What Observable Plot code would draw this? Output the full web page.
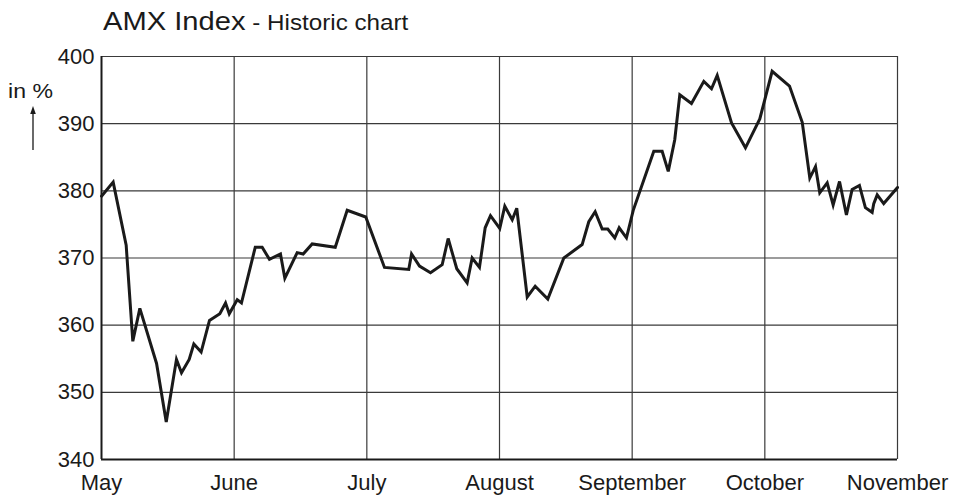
<!DOCTYPE html>
<html>
<head>
<meta charset="utf-8">
<script src="https://cdn.jsdelivr.net/npm/d3@7"></script>
<script src="https://cdn.jsdelivr.net/npm/@observablehq/plot@0.6"></script>
<style>
  html, body { margin: 0; padding: 0; background: #fff; }
  #wrap { position: relative; width: 958px; height: 500px; font-family: "Liberation Sans", Arial, Helvetica, sans-serif; color: #1a1a1a; }
  #title { position: absolute; left: 103px; top: 8px; white-space: nowrap; line-height: 1; transform-origin: left bottom; transform: scaleX(1.1); }
  #title .main { font-size: 26.5px; }
  #title .sub { font-size: 22px; }
  #unit { position: absolute; left: 8px; top: 80px; font-size: 21px; line-height: 1; transform-origin: left top; transform: scaleX(1.1); }
  #arrow { position: absolute; left: 0; top: 0; }
  #chart { position: absolute; left: 0; top: 0; }
</style>
</head>
<body>
<div id="wrap">
  <div id="chart"></div>
  <div id="title"><span class="main">AMX Index</span><span class="sub"> - Historic chart</span></div>
  <div id="unit">in %</div>
  <svg id="arrow" width="60" height="160"><line x1="33" y1="150" x2="33" y2="112" stroke="#1a1a1a" stroke-width="1.3"/><path d="M33,106 L30.2,114 L35.8,114 Z" fill="#1a1a1a"/></svg>
</div>
<script>
// Month labels (x axis, one per month boundary)
const monthLabels = ["May", "June", "July", "August", "September", "October", "November"];
// Position of each observation, in months since the start of May
const t = [
  0.00, 0.088, 0.186, 0.236, 0.289, 0.415, 0.488, 0.565, 0.603, 0.661,
  0.696, 0.751, 0.814, 0.892, 0.935, 0.963, 1.023, 1.055, 1.159, 1.211,
  1.266, 1.349, 1.382, 1.475, 1.520, 1.588, 1.762, 1.852, 1.992, 2.133,
  2.316, 2.337, 2.397, 2.480, 2.568, 2.613, 2.678, 2.756, 2.794, 2.849,
  2.892, 2.932, 3.002, 3.040, 3.096, 3.130, 3.209, 3.269, 3.364, 3.485,
  3.623, 3.673, 3.721, 3.774, 3.816, 3.869, 3.902, 3.957, 4.008, 4.163,
  4.226, 4.272, 4.321, 4.359, 4.447, 4.540, 4.598, 4.641, 4.749, 4.854,
  4.962, 5.055, 5.186, 5.282, 5.339, 5.382, 5.414, 5.470, 5.515, 5.563,
  5.615, 5.658, 5.713, 5.758, 5.809, 5.821, 5.847, 5.896, 6.000
];
// Index values
const indexValues = [
  379.2, 381.3, 371.9, 357.6, 362.5, 354.3, 345.6, 354.9, 352.9, 354.9,
  357.2, 356.0, 360.7, 361.7, 363.3, 361.7, 363.8, 363.3, 371.6, 371.6,
  369.8, 370.6, 367.0, 370.8, 370.6, 372.1, 371.6, 377.1, 376.1, 368.6,
  368.3, 370.6, 368.8, 367.8, 369.0, 372.9, 368.4, 366.3, 370.0, 368.6,
  374.5, 376.3, 374.4, 377.7, 375.7, 377.4, 364.2, 365.8, 363.9, 370.0,
  372.0, 375.4, 376.9, 374.3, 374.3, 373.0, 374.5, 373.0, 377.1, 385.9,
  385.9, 382.9, 387.6, 394.3, 393.0, 396.3, 395.2, 397.2, 390.1, 386.4,
  390.7, 397.8, 395.6, 390.2, 381.9, 383.6, 379.7, 381.2, 377.9, 381.4,
  376.4, 380.2, 380.8, 377.5, 376.8, 378.1, 379.4, 378.1, 380.5
];
const yTicks = [340, 350, 360, 370, 380, 390, 400];

const data = t.map((m, i) => ({m, v: indexValues[i]}));
const monthIdx = monthLabels.map((_, i) => i);

const chart = Plot.plot({
  width: 958,
  height: 500,
  marginLeft: 101,
  marginRight: 61,
  marginTop: 56,
  marginBottom: 41,
  style: {fontFamily: '"Liberation Sans", Arial, Helvetica, sans-serif', fontSize: "22px", color: "#1a1a1a", background: "#fff"},
  x: {type: "linear", domain: [0, 6]},
  y: {domain: [340, 400]},
  marks: [
    Plot.ruleY(yTicks.slice(1, -1), {stroke: "#3a3a3a", strokeWidth: 1.2}),
    Plot.ruleX(monthIdx.slice(1, -1), {stroke: "#3a3a3a", strokeWidth: 1.2}),
    Plot.ruleX([6], {stroke: "#3a3a3a", strokeWidth: 1.2}),
    Plot.ruleY([400], {stroke: "#3a3a3a", strokeWidth: 1.2}),
    Plot.ruleX([0], {stroke: "#1a1a1a", strokeWidth: 2}),
    Plot.ruleY([340], {stroke: "#1a1a1a", strokeWidth: 2.2}),
    Plot.axisY({ticks: yTicks, tickSize: 0, tickPadding: 7, label: null, fontSize: 22, style: {letterSpacing: "1px"}}),
    Plot.axisX({ticks: monthIdx, tickSize: 0, tickPadding: 15, label: null, fontSize: 22, tickFormat: i => monthLabels[i]}),
    Plot.line(data, {x: "m", y: "v", stroke: "#1a1a1a", strokeWidth: 3, strokeLinejoin: "miter", strokeMiterlimit: 4})
  ]
});
document.getElementById("chart").appendChild(chart);
</script>
</body>
</html>
